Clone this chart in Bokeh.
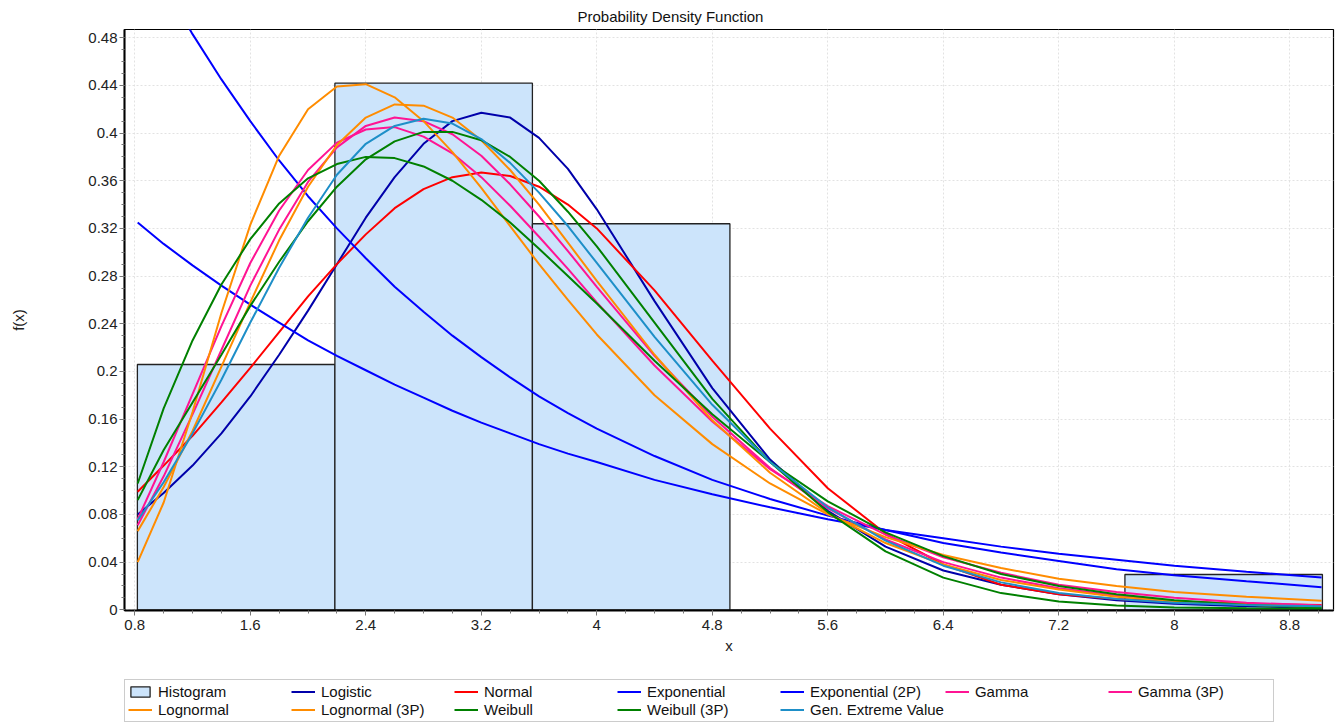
from bokeh.plotting import figure
from bokeh.models import Legend, LegendItem, FixedTicker, Range1d
from bokeh.layouts import column
from bokeh.embed import file_html
from bokeh.resources import INLINE

# ---------------- data ----------------
hist_left = [0.818, 2.186, 3.554, 4.922, 6.290, 7.658]
hist_right = [2.186, 3.554, 4.922, 6.290, 7.658, 9.026]
hist_height = [0.2058, 0.4419, 0.3239, 0.0, 0.0, 0.0296]

x_pts = [0.82, 1.0, 1.2, 1.4, 1.6, 1.8, 2.0, 2.2, 2.4, 2.6, 2.8, 3.0, 3.2, 3.4, 3.6,
         3.8, 4.0, 4.4, 4.8, 5.2, 5.6, 6.0, 6.4, 6.8, 7.2, 7.6, 8.0, 8.5, 9.02]

logistic = [0.080, 0.098, 0.121, 0.148, 0.179, 0.214, 0.251, 0.290, 0.329, 0.363, 0.391, 0.410, 0.417, 0.413, 0.396,
            0.370, 0.336, 0.259, 0.186, 0.126, 0.083, 0.053, 0.033, 0.021, 0.013, 0.008, 0.005, 0.003, 0.0015]
normal = [0.099, 0.121, 0.146, 0.174, 0.203, 0.233, 0.263, 0.290, 0.315, 0.337, 0.353, 0.363, 0.367, 0.364, 0.355,
          0.340, 0.320, 0.268, 0.209, 0.152, 0.102, 0.064, 0.038, 0.021, 0.013, 0.009, 0.007, 0.005, 0.004]
exponential = [0.325, 0.307, 0.289, 0.272, 0.256, 0.241, 0.226, 0.213, 0.201, 0.189, 0.178, 0.167, 0.157, 0.148, 0.139,
               0.131, 0.124, 0.109, 0.097, 0.086, 0.076, 0.067, 0.060, 0.053, 0.047, 0.042, 0.037, 0.032, 0.027]
exponential_2p = [0.565, 0.525, 0.483, 0.445, 0.410, 0.377, 0.347, 0.320, 0.295, 0.271, 0.250, 0.230, 0.212, 0.195, 0.179,
                  0.165, 0.152, 0.129, 0.109, 0.093, 0.079, 0.067, 0.056, 0.048, 0.041, 0.034, 0.029, 0.024, 0.019]
gamma = [0.076, 0.124, 0.181, 0.238, 0.291, 0.335, 0.369, 0.392, 0.403, 0.405, 0.397, 0.383, 0.363, 0.339, 0.313,
         0.286, 0.258, 0.205, 0.158, 0.118, 0.087, 0.063, 0.044, 0.031, 0.021, 0.015, 0.010, 0.006, 0.0035]
gamma_3p = [0.071, 0.112, 0.164, 0.218, 0.272, 0.319, 0.359, 0.388, 0.406, 0.413, 0.410, 0.399, 0.381, 0.357, 0.330,
            0.301, 0.271, 0.213, 0.162, 0.119, 0.085, 0.059, 0.040, 0.027, 0.018, 0.012, 0.0074, 0.0042, 0.0023]
lognormal = [0.040, 0.090, 0.166, 0.249, 0.323, 0.381, 0.420, 0.439, 0.441, 0.430, 0.410, 0.384, 0.354, 0.322, 0.290,
             0.260, 0.231, 0.180, 0.139, 0.106, 0.080, 0.061, 0.046, 0.035, 0.026, 0.020, 0.015, 0.011, 0.0075]
lognormal_3p = [0.066, 0.103, 0.150, 0.204, 0.258, 0.310, 0.355, 0.390, 0.413, 0.424, 0.423, 0.413, 0.394, 0.369, 0.340,
                0.308, 0.276, 0.214, 0.159, 0.115, 0.081, 0.056, 0.038, 0.025, 0.017, 0.011, 0.0072, 0.0042, 0.0023]
weibull = [0.092, 0.134, 0.174, 0.214, 0.255, 0.292, 0.326, 0.355, 0.378, 0.393, 0.401, 0.401, 0.394, 0.380, 0.360,
           0.334, 0.305, 0.241, 0.177, 0.124, 0.082, 0.049, 0.027, 0.014, 0.007, 0.0035, 0.002, 0.0012, 0.0008]
weibull_3p = [0.106, 0.169, 0.226, 0.273, 0.311, 0.341, 0.362, 0.374, 0.380, 0.379, 0.372, 0.360, 0.344, 0.325, 0.303,
              0.280, 0.257, 0.209, 0.164, 0.124, 0.091, 0.065, 0.045, 0.030, 0.020, 0.013, 0.008, 0.004, 0.002]
gev = [0.075, 0.107, 0.148, 0.193, 0.241, 0.287, 0.329, 0.365, 0.391, 0.406, 0.412, 0.408, 0.395, 0.375, 0.350,
       0.322, 0.291, 0.229, 0.172, 0.124, 0.086, 0.058, 0.037, 0.023, 0.014, 0.009, 0.006, 0.004, 0.003]

series_names = ["Logistic", "Normal", "Exponential", "Exponential (2P)", "Gamma", "Gamma (3P)",
                "Lognormal", "Lognormal (3P)", "Weibull", "Weibull (3P)", "Gen. Extreme Value"]
series_values = [logistic, normal, exponential, exponential_2p, gamma, gamma_3p,
                 lognormal, lognormal_3p, weibull, weibull_3p, gev]
series_colors = ["#0000AA", "#FF0000", "#0000FF", "#0000FF", "#FF1493", "#FF1493",
                 "#FF8C00", "#FF8C00", "#008000", "#008000", "#1E8FC8"]

x_ticks = [0.8, 1.6, 2.4, 3.2, 4.0, 4.8, 5.6, 6.4, 7.2, 8.0, 8.8]
x_labels = ["0.8", "1.6", "2.4", "3.2", "4", "4.8", "5.6", "6.4", "7.2", "8", "8.8"]
y_ticks = [0.0, 0.04, 0.08, 0.12, 0.16, 0.2, 0.24, 0.28, 0.32, 0.36, 0.4, 0.44, 0.48]
y_labels = ["0", "0.04", "0.08", "0.12", "0.16", "0.2", "0.24", "0.28", "0.32", "0.36", "0.4", "0.44", "0.48"]

FONT = "Liberation Sans"
HIST_FILL = "#CCE4FB"
HIST_LINE = "#222222"

# ---------------- main plot ----------------
p = figure(width=1343, height=660, output_backend="svg", toolbar_location=None,
           title="Probability Density Function",
           x_range=Range1d(0.7287, 9.1027), y_range=Range1d(-0.0006, 0.4869),
           min_border_left=124, min_border_right=10, min_border_top=29, min_border_bottom=50)
p.background_fill_color = "white"
p.border_fill_color = "white"
p.outline_line_color = "black"
p.outline_line_width = 1.2

p.title.align = "left"
p.title.offset = 453
p.title.standoff = 8
p.title.vertical_align = "middle"
p.title.text_font = FONT
p.title.text_font_size = "15px"
p.title.text_font_style = "normal"
p.title.text_color = "#111111"

p.grid.grid_line_color = "#e2e2e2"
p.grid.grid_line_dash = "2 2"
p.grid.grid_line_width = 1

x_minor = [round(0.8 + 0.2 * i, 2) for i in range(42)]
y_minor = [round(0.01 * i, 2) for i in range(49)]
p.xaxis.ticker = FixedTicker(ticks=x_ticks, minor_ticks=x_minor)
p.yaxis.ticker = FixedTicker(ticks=y_ticks, minor_ticks=y_minor)
p.xaxis.major_label_overrides = {t: s for t, s in zip(x_ticks, x_labels)}
p.yaxis.major_label_overrides = {t: s for t, s in zip(y_ticks, y_labels)}
for ax in (p.xaxis[0], p.yaxis[0]):
    ax.axis_line_color = "black"
    ax.axis_line_width = 2
    ax.major_tick_line_color = "#777777"
    ax.minor_tick_line_color = "#777777"
    ax.major_tick_out = 5
    ax.major_tick_in = 0
    ax.minor_tick_out = 3
    ax.minor_tick_in = 0
    ax.major_label_text_font = FONT
    ax.major_label_text_font_size = "15px"
    ax.major_label_text_color = "#222222"
    ax.axis_label_text_font = FONT
    ax.axis_label_text_font_size = "15px"
    ax.axis_label_text_font_style = "normal"
    ax.axis_label_text_color = "#222222"
p.xaxis.axis_label = "x"
p.xaxis.major_label_standoff = 4
p.xaxis.axis_label_standoff = 4
p.yaxis.axis_label = "f(x)"
p.yaxis.major_label_standoff = 2
p.yaxis.axis_label_standoff = 58

p.quad(left=hist_left, right=hist_right, top=hist_height, bottom=0,
       fill_color=HIST_FILL, line_color=HIST_LINE, line_width=1.3)
for vals, col in zip(series_values, series_colors):
    p.line(x_pts, vals, line_color=col, line_width=2)

# ---------------- legend strip ----------------
lg = figure(width=1343, height=63, output_backend="svg", toolbar_location=None, title=None,
            x_axis_type=None, y_axis_type=None, x_range=Range1d(0, 1), y_range=Range1d(0, 1),
            min_border=0)
lg.outline_line_color = None
lg.background_fill_color = "white"
lg.border_fill_color = "white"
lg.grid.visible = False

# legend swatches (their data lie outside the strip's visible range)
items = [LegendItem(label="Histogram",
                    renderers=[lg.quad(left=[-3], right=[-2], top=[-2], bottom=[-3],
                                       fill_color=HIST_FILL, line_color=HIST_LINE, line_width=1.3)])]
for name, col in zip(series_names, series_colors):
    items.append(LegendItem(label=name,
                            renderers=[lg.line([-3, -2], [-3, -2], line_color=col, line_width=2)]))

legend = Legend(items=items, location=(0, 1), orientation="horizontal", ncols=7,
                padding=3, margin=0, spacing=1,
                glyph_width=24, glyph_height=13, label_standoff=6,
                label_width=132, label_height=17,
                label_text_font=FONT, label_text_font_size="15px", label_text_color="#111111",
                border_line_color="#9a9a9a", border_line_width=1,
                background_fill_color="white", background_fill_alpha=1.0)
lg.add_layout(legend, "center")

layout = column(p, lg, spacing=0)
open("out.html", "w").write(file_html(layout, INLINE))
